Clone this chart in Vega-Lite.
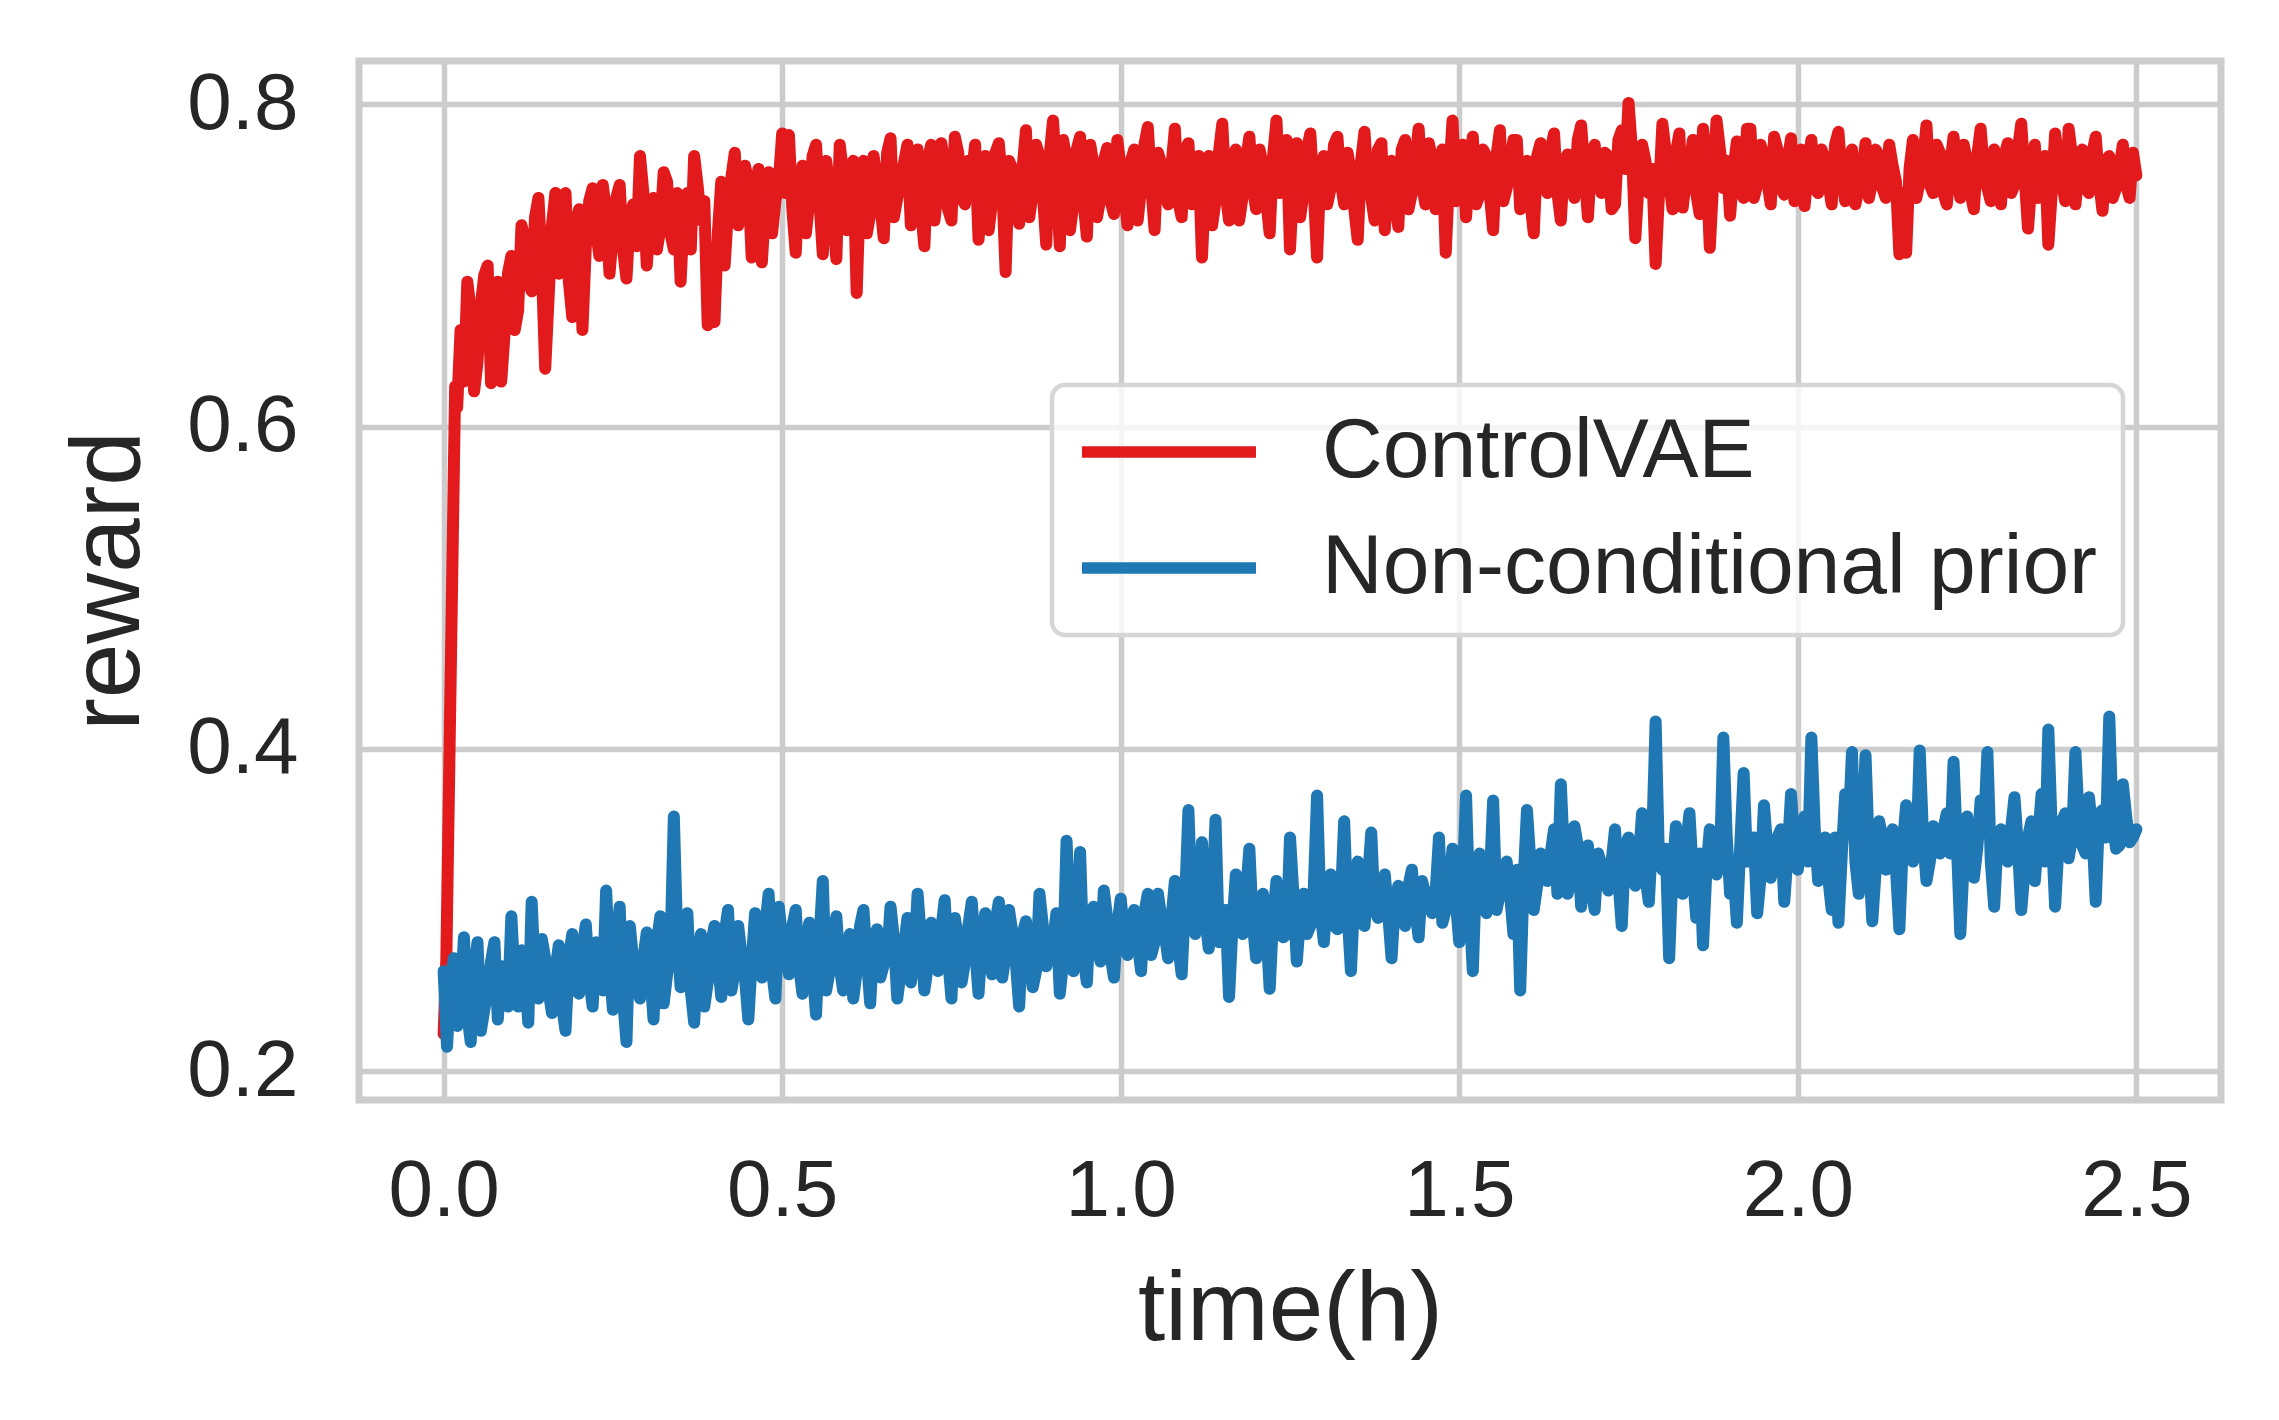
{
  "$schema": "https://vega.github.io/schema/vega-lite/v6.json",
  "autosize": {"type": "none"},
  "width": 1862,
  "height": 1039,
  "padding": {"left": 359, "top": 61, "right": 58, "bottom": 320},
  "background": "white",
  "datasets": {
    "red": [
      {"t":0,"r":0.223},{"t":0.004,"r":0.27},{"t":0.017,"r":0.625},{"t":0.02,"r":0.612},{"t":0.025,"r":0.66},{"t":0.03,"r":0.628},{"t":0.04,"r":0.672},{"t":0.05,"r":0.64},{"t":0.06,"r":0.694},{"t":0.07,"r":0.627},{"t":0.08,"r":0.69},{"t":0.09,"r":0.658},
      {"t":0.1,"r":0.706},{"t":0.11,"r":0.672},{"t":0.12,"r":0.716},{"t":0.13,"r":0.684},{"t":0.14,"r":0.742},{"t":0.15,"r":0.636},{"t":0.16,"r":0.725},{"t":0.17,"r":0.695},{"t":0.18,"r":0.745},{"t":0.19,"r":0.668},
      {"t":0.2,"r":0.735},{"t":0.21,"r":0.712},{"t":0.22,"r":0.748},{"t":0.23,"r":0.706},{"t":0.24,"r":0.733},{"t":0.25,"r":0.72},{"t":0.26,"r":0.75},{"t":0.27,"r":0.692},{"t":0.28,"r":0.738},{"t":0.29,"r":0.768},
      {"t":0.3,"r":0.7},{"t":0.31,"r":0.742},{"t":0.32,"r":0.723},{"t":0.33,"r":0.752},{"t":0.34,"r":0.71},{"t":0.35,"r":0.69},{"t":0.36,"r":0.745},{"t":0.37,"r":0.768},{"t":0.38,"r":0.728},{"t":0.39,"r":0.663},
      {"t":0.4,"r":0.665},{"t":0.41,"r":0.752},{"t":0.42,"r":0.734},{"t":0.43,"r":0.77},{"t":0.44,"r":0.736},{"t":0.45,"r":0.752},{"t":0.46,"r":0.745},{"t":0.47,"r":0.702},{"t":0.48,"r":0.758},{"t":0.49,"r":0.74},
      {"t":0.5,"r":0.782},{"t":0.51,"r":0.781},{"t":0.52,"r":0.708},{"t":0.53,"r":0.762},{"t":0.54,"r":0.74},{"t":0.55,"r":0.775},{"t":0.56,"r":0.707},{"t":0.57,"r":0.748},{"t":0.58,"r":0.704},{"t":0.59,"r":0.758},
      {"t":0.6,"r":0.745},{"t":0.61,"r":0.683},{"t":0.62,"r":0.765},{"t":0.63,"r":0.732},{"t":0.64,"r":0.752},{"t":0.65,"r":0.717},{"t":0.66,"r":0.779},{"t":0.67,"r":0.742},{"t":0.68,"r":0.764},{"t":0.69,"r":0.725},
      {"t":0.7,"r":0.772},{"t":0.71,"r":0.712},{"t":0.72,"r":0.775},{"t":0.73,"r":0.748},{"t":0.74,"r":0.762},{"t":0.75,"r":0.728},{"t":0.76,"r":0.77},{"t":0.77,"r":0.738},{"t":0.78,"r":0.757},{"t":0.79,"r":0.716},
      {"t":0.8,"r":0.768},{"t":0.81,"r":0.74},{"t":0.82,"r":0.776},{"t":0.83,"r":0.696},{"t":0.84,"r":0.76},{"t":0.85,"r":0.726},{"t":0.86,"r":0.784},{"t":0.87,"r":0.745},{"t":0.88,"r":0.768},{"t":0.89,"r":0.713},
      {"t":0.9,"r":0.79},{"t":0.91,"r":0.712},{"t":0.92,"r":0.765},{"t":0.93,"r":0.738},{"t":0.94,"r":0.78},{"t":0.95,"r":0.718},{"t":0.96,"r":0.762},{"t":0.97,"r":0.742},{"t":0.98,"r":0.773},{"t":0.99,"r":0.732},
      {"t":1,"r":0.76},{"t":1.01,"r":0.725},{"t":1.02,"r":0.772},{"t":1.03,"r":0.748},{"t":1.04,"r":0.786},{"t":1.05,"r":0.722},{"t":1.06,"r":0.763},{"t":1.07,"r":0.738},{"t":1.08,"r":0.785},{"t":1.09,"r":0.73},
      {"t":1.1,"r":0.776},{"t":1.11,"r":0.752},{"t":1.12,"r":0.705},{"t":1.13,"r":0.768},{"t":1.14,"r":0.74},{"t":1.15,"r":0.788},{"t":1.16,"r":0.728},{"t":1.17,"r":0.772},{"t":1.18,"r":0.743},{"t":1.19,"r":0.78},
      {"t":1.2,"r":0.735},{"t":1.21,"r":0.762},{"t":1.22,"r":0.72},{"t":1.23,"r":0.79},{"t":1.24,"r":0.75},{"t":1.25,"r":0.71},{"t":1.26,"r":0.776},{"t":1.27,"r":0.745},{"t":1.28,"r":0.782},{"t":1.29,"r":0.705},
      {"t":1.3,"r":0.768},{"t":1.31,"r":0.748},{"t":1.32,"r":0.78},{"t":1.33,"r":0.738},{"t":1.34,"r":0.757},{"t":1.35,"r":0.716},{"t":1.36,"r":0.783},{"t":1.37,"r":0.742},{"t":1.38,"r":0.772},{"t":1.39,"r":0.722},
      {"t":1.4,"r":0.765},{"t":1.41,"r":0.724},{"t":1.42,"r":0.778},{"t":1.43,"r":0.745},{"t":1.44,"r":0.785},{"t":1.45,"r":0.738},{"t":1.46,"r":0.766},{"t":1.47,"r":0.748},{"t":1.48,"r":0.708},{"t":1.49,"r":0.79},
      {"t":1.5,"r":0.755},{"t":1.51,"r":0.73},{"t":1.52,"r":0.78},{"t":1.53,"r":0.744},{"t":1.54,"r":0.768},{"t":1.55,"r":0.722},{"t":1.56,"r":0.784},{"t":1.57,"r":0.748},{"t":1.58,"r":0.778},{"t":1.59,"r":0.735},
      {"t":1.6,"r":0.765},{"t":1.61,"r":0.72},{"t":1.62,"r":0.776},{"t":1.63,"r":0.745},{"t":1.64,"r":0.782},{"t":1.65,"r":0.728},{"t":1.66,"r":0.769},{"t":1.67,"r":0.742},{"t":1.68,"r":0.787},{"t":1.69,"r":0.73},
      {"t":1.7,"r":0.775},{"t":1.71,"r":0.745},{"t":1.72,"r":0.768},{"t":1.73,"r":0.738},{"t":1.74,"r":0.784},{"t":1.75,"r":0.801},{"t":1.76,"r":0.717},{"t":1.77,"r":0.775},{"t":1.78,"r":0.745},{"t":1.79,"r":0.701},
      {"t":1.8,"r":0.788},{"t":1.81,"r":0.752},{"t":1.82,"r":0.77},{"t":1.83,"r":0.736},{"t":1.84,"r":0.762},{"t":1.85,"r":0.745},{"t":1.86,"r":0.785},{"t":1.87,"r":0.711},{"t":1.88,"r":0.79},{"t":1.89,"r":0.748},
      {"t":1.9,"r":0.731},{"t":1.91,"r":0.777},{"t":1.92,"r":0.742},{"t":1.93,"r":0.785},{"t":1.94,"r":0.75},{"t":1.95,"r":0.768},{"t":1.96,"r":0.738},{"t":1.97,"r":0.772},{"t":1.98,"r":0.744},{"t":1.99,"r":0.779},
      {"t":2,"r":0.755},{"t":2.01,"r":0.737},{"t":2.02,"r":0.778},{"t":2.03,"r":0.745},{"t":2.04,"r":0.766},{"t":2.05,"r":0.738},{"t":2.06,"r":0.783},{"t":2.07,"r":0.74},{"t":2.08,"r":0.772},{"t":2.09,"r":0.748},
      {"t":2.1,"r":0.776},{"t":2.11,"r":0.752},{"t":2.12,"r":0.768},{"t":2.13,"r":0.742},{"t":2.14,"r":0.762},{"t":2.15,"r":0.707},{"t":2.16,"r":0.708},{"t":2.17,"r":0.778},{"t":2.18,"r":0.752},{"t":2.19,"r":0.787},
      {"t":2.2,"r":0.745},{"t":2.21,"r":0.77},{"t":2.22,"r":0.738},{"t":2.23,"r":0.78},{"t":2.24,"r":0.742},{"t":2.25,"r":0.765},{"t":2.26,"r":0.735},{"t":2.27,"r":0.785},{"t":2.28,"r":0.748},{"t":2.29,"r":0.772},
      {"t":2.3,"r":0.738},{"t":2.31,"r":0.776},{"t":2.32,"r":0.75},{"t":2.33,"r":0.788},{"t":2.34,"r":0.723},{"t":2.35,"r":0.775},{"t":2.36,"r":0.745},{"t":2.37,"r":0.713},{"t":2.38,"r":0.782},{"t":2.39,"r":0.752},
      {"t":2.4,"r":0.785},{"t":2.41,"r":0.738},{"t":2.42,"r":0.772},{"t":2.43,"r":0.745},{"t":2.44,"r":0.78},{"t":2.45,"r":0.734},{"t":2.46,"r":0.768},{"t":2.47,"r":0.748},{"t":2.48,"r":0.775},{"t":2.49,"r":0.742},
      {"t":2.5,"r":0.756},
      {"t":0.035,"r":0.69},{"t":0.045,"r":0.622},{"t":0.055,"r":0.676},{"t":0.065,"r":0.7},{"t":0.075,"r":0.66},{"t":0.085,"r":0.628},{"t":0.095,"r":0.695},
      {"t":0.105,"r":0.66},{"t":0.115,"r":0.725},{"t":0.125,"r":0.69},{"t":0.135,"r":0.73},{"t":0.145,"r":0.7},{"t":0.155,"r":0.68},{"t":0.165,"r":0.745},{"t":0.175,"r":0.71},{"t":0.185,"r":0.69},{"t":0.195,"r":0.725},
      {"t":0.205,"r":0.66},{"t":0.215,"r":0.74},{"t":0.225,"r":0.722},{"t":0.235,"r":0.75},{"t":0.245,"r":0.695},{"t":0.255,"r":0.742},{"t":0.265,"r":0.71},{"t":0.275,"r":0.73},{"t":0.285,"r":0.712},{"t":0.295,"r":0.745},
      {"t":0.305,"r":0.73},{"t":0.315,"r":0.71},{"t":0.325,"r":0.758},{"t":0.335,"r":0.72},{"t":0.345,"r":0.745},{"t":0.355,"r":0.735},{"t":0.365,"r":0.71},{"t":0.375,"r":0.75},{"t":0.385,"r":0.74},{"t":0.395,"r":0.705},
      {"t":0.405,"r":0.72},{"t":0.415,"r":0.7},{"t":0.425,"r":0.755},{"t":0.435,"r":0.725},{"t":0.445,"r":0.762},{"t":0.455,"r":0.705},{"t":0.465,"r":0.76},{"t":0.475,"r":0.738},{"t":0.485,"r":0.72},{"t":0.495,"r":0.752},
      {"t":0.505,"r":0.745},{"t":0.515,"r":0.735},{"t":0.525,"r":0.75},{"t":0.535,"r":0.72},{"t":0.545,"r":0.768},{"t":0.555,"r":0.74},{"t":0.565,"r":0.765},{"t":0.575,"r":0.73},{"t":0.585,"r":0.775},{"t":0.595,"r":0.722},
      {"t":0.605,"r":0.765},{"t":0.615,"r":0.748},{"t":0.625,"r":0.72},{"t":0.635,"r":0.768},{"t":0.645,"r":0.738},{"t":0.655,"r":0.77},{"t":0.665,"r":0.73},{"t":0.675,"r":0.752},{"t":0.685,"r":0.775},{"t":0.695,"r":0.745},
      {"t":0.705,"r":0.735},{"t":0.715,"r":0.765},{"t":0.725,"r":0.728},{"t":0.735,"r":0.776},{"t":0.745,"r":0.735},{"t":0.755,"r":0.78},{"t":0.765,"r":0.742},{"t":0.775,"r":0.765},{"t":0.785,"r":0.775},{"t":0.795,"r":0.745},
      {"t":0.805,"r":0.722},{"t":0.815,"r":0.77},{"t":0.825,"r":0.75},{"t":0.835,"r":0.765},{"t":0.845,"r":0.742},{"t":0.855,"r":0.76},{"t":0.865,"r":0.73},{"t":0.875,"r":0.775},{"t":0.885,"r":0.745},{"t":0.895,"r":0.768},
      {"t":0.905,"r":0.755},{"t":0.915,"r":0.778},{"t":0.925,"r":0.722},{"t":0.935,"r":0.772},{"t":0.945,"r":0.74},{"t":0.955,"r":0.775},{"t":0.965,"r":0.73},{"t":0.975,"r":0.765},{"t":0.985,"r":0.74},{"t":0.995,"r":0.778},
      {"t":1.005,"r":0.745},{"t":1.015,"r":0.765},{"t":1.025,"r":0.728},{"t":1.035,"r":0.775},{"t":1.045,"r":0.75},{"t":1.055,"r":0.77},{"t":1.065,"r":0.745},{"t":1.075,"r":0.762},{"t":1.085,"r":0.74},{"t":1.095,"r":0.772},
      {"t":1.105,"r":0.738},{"t":1.115,"r":0.768},{"t":1.125,"r":0.752},{"t":1.135,"r":0.725},{"t":1.145,"r":0.77},{"t":1.155,"r":0.745},{"t":1.165,"r":0.768},{"t":1.175,"r":0.728},{"t":1.185,"r":0.765},{"t":1.195,"r":0.748},
      {"t":1.205,"r":0.772},{"t":1.215,"r":0.74},{"t":1.225,"r":0.768},{"t":1.235,"r":0.745},{"t":1.245,"r":0.778},{"t":1.255,"r":0.752},{"t":1.265,"r":0.73},{"t":1.275,"r":0.772},{"t":1.285,"r":0.748},{"t":1.295,"r":0.76},
      {"t":1.305,"r":0.738},{"t":1.315,"r":0.775},{"t":1.325,"r":0.752},{"t":1.335,"r":0.77},{"t":1.345,"r":0.735},{"t":1.355,"r":0.765},{"t":1.365,"r":0.752},{"t":1.375,"r":0.728},{"t":1.385,"r":0.776},{"t":1.395,"r":0.755},
      {"t":1.405,"r":0.74},{"t":1.415,"r":0.772},{"t":1.425,"r":0.735},{"t":1.435,"r":0.765},{"t":1.445,"r":0.75},{"t":1.455,"r":0.776},{"t":1.465,"r":0.735},{"t":1.475,"r":0.772},{"t":1.485,"r":0.755},{"t":1.495,"r":0.74},
      {"t":1.505,"r":0.775},{"t":1.515,"r":0.76},{"t":1.525,"r":0.738},{"t":1.535,"r":0.772},{"t":1.545,"r":0.745},{"t":1.555,"r":0.768},{"t":1.565,"r":0.74},{"t":1.575,"r":0.762},{"t":1.585,"r":0.778},{"t":1.595,"r":0.748},
      {"t":1.605,"r":0.74},{"t":1.615,"r":0.768},{"t":1.625,"r":0.755},{"t":1.635,"r":0.772},{"t":1.645,"r":0.745},{"t":1.655,"r":0.765},{"t":1.665,"r":0.752},{"t":1.675,"r":0.778},{"t":1.685,"r":0.758},{"t":1.695,"r":0.765},
      {"t":1.705,"r":0.752},{"t":1.715,"r":0.77},{"t":1.725,"r":0.735},{"t":1.735,"r":0.778},{"t":1.745,"r":0.76},{"t":1.755,"r":0.772},{"t":1.765,"r":0.752},{"t":1.775,"r":0.765},{"t":1.785,"r":0.76},{"t":1.795,"r":0.745},
      {"t":1.805,"r":0.77},{"t":1.815,"r":0.735},{"t":1.825,"r":0.782},{"t":1.835,"r":0.755},{"t":1.845,"r":0.778},{"t":1.855,"r":0.732},{"t":1.865,"r":0.765},{"t":1.875,"r":0.752},{"t":1.885,"r":0.772},{"t":1.895,"r":0.765},
      {"t":1.905,"r":0.76},{"t":1.915,"r":0.748},{"t":1.925,"r":0.785},{"t":1.935,"r":0.742},{"t":1.945,"r":0.775},{"t":1.955,"r":0.752},{"t":1.965,"r":0.78},{"t":1.975,"r":0.748},{"t":1.985,"r":0.765},{"t":1.995,"r":0.74},
      {"t":2.005,"r":0.772},{"t":2.015,"r":0.76},{"t":2.025,"r":0.748},{"t":2.035,"r":0.772},{"t":2.045,"r":0.752},{"t":2.055,"r":0.775},{"t":2.065,"r":0.755},{"t":2.075,"r":0.765},{"t":2.085,"r":0.738},{"t":2.095,"r":0.758},
      {"t":2.105,"r":0.742},{"t":2.115,"r":0.772},{"t":2.125,"r":0.748},{"t":2.135,"r":0.775},{"t":2.145,"r":0.752},{"t":2.155,"r":0.745},{"t":2.165,"r":0.76},{"t":2.175,"r":0.742},{"t":2.185,"r":0.765},{"t":2.195,"r":0.75},
      {"t":2.205,"r":0.775},{"t":2.215,"r":0.745},{"t":2.225,"r":0.762},{"t":2.235,"r":0.755},{"t":2.245,"r":0.775},{"t":2.255,"r":0.745},{"t":2.265,"r":0.768},{"t":2.275,"r":0.758},{"t":2.285,"r":0.74},{"t":2.295,"r":0.765},
      {"t":2.305,"r":0.768},{"t":2.315,"r":0.745},{"t":2.325,"r":0.772},{"t":2.335,"r":0.755},{"t":2.345,"r":0.752},{"t":2.355,"r":0.742},{"t":2.365,"r":0.768},{"t":2.375,"r":0.745},{"t":2.385,"r":0.765},{"t":2.395,"r":0.74},
      {"t":2.405,"r":0.768},{"t":2.415,"r":0.76},{"t":2.425,"r":0.748},{"t":2.435,"r":0.77},{"t":2.445,"r":0.752},{"t":2.455,"r":0.765},{"t":2.465,"r":0.742},{"t":2.475,"r":0.76},{"t":2.485,"r":0.75},{"t":2.495,"r":0.77}
    ],
    "blue": [
      {"t":0,"r":0.262},{"t":0.005,"r":0.215},{"t":0.01,"r":0.255},{"t":0.02,"r":0.228},{"t":0.03,"r":0.283},{"t":0.04,"r":0.218},{"t":0.05,"r":0.28},{"t":0.06,"r":0.238},{"t":0.07,"r":0.268},{"t":0.08,"r":0.232},{"t":0.09,"r":0.258},
      {"t":0.1,"r":0.296},{"t":0.11,"r":0.24},{"t":0.12,"r":0.262},{"t":0.13,"r":0.305},{"t":0.14,"r":0.245},{"t":0.15,"r":0.27},{"t":0.16,"r":0.236},{"t":0.17,"r":0.278},{"t":0.18,"r":0.225},{"t":0.19,"r":0.285},
      {"t":0.2,"r":0.248},{"t":0.21,"r":0.291},{"t":0.22,"r":0.24},{"t":0.23,"r":0.27},{"t":0.24,"r":0.312},{"t":0.25,"r":0.238},{"t":0.26,"r":0.302},{"t":0.27,"r":0.218},{"t":0.28,"r":0.268},{"t":0.29,"r":0.245},
      {"t":0.3,"r":0.286},{"t":0.31,"r":0.232},{"t":0.32,"r":0.296},{"t":0.33,"r":0.26},{"t":0.34,"r":0.358},{"t":0.35,"r":0.252},{"t":0.36,"r":0.298},{"t":0.37,"r":0.23},{"t":0.38,"r":0.285},{"t":0.39,"r":0.255},
      {"t":0.4,"r":0.29},{"t":0.41,"r":0.246},{"t":0.42,"r":0.3},{"t":0.43,"r":0.262},{"t":0.44,"r":0.272},{"t":0.45,"r":0.232},{"t":0.46,"r":0.298},{"t":0.47,"r":0.258},{"t":0.48,"r":0.31},{"t":0.49,"r":0.245},
      {"t":0.5,"r":0.282},{"t":0.51,"r":0.26},{"t":0.52,"r":0.3},{"t":0.53,"r":0.248},{"t":0.54,"r":0.292},{"t":0.55,"r":0.235},{"t":0.56,"r":0.318},{"t":0.57,"r":0.262},{"t":0.58,"r":0.296},{"t":0.59,"r":0.25},
      {"t":0.6,"r":0.285},{"t":0.61,"r":0.262},{"t":0.62,"r":0.3},{"t":0.63,"r":0.242},{"t":0.64,"r":0.288},{"t":0.65,"r":0.266},{"t":0.66,"r":0.302},{"t":0.67,"r":0.245},{"t":0.68,"r":0.277},{"t":0.69,"r":0.255},
      {"t":0.7,"r":0.31},{"t":0.71,"r":0.25},{"t":0.72,"r":0.292},{"t":0.73,"r":0.262},{"t":0.74,"r":0.306},{"t":0.75,"r":0.245},{"t":0.76,"r":0.282},{"t":0.77,"r":0.268},{"t":0.78,"r":0.305},{"t":0.79,"r":0.248},
      {"t":0.8,"r":0.298},{"t":0.81,"r":0.26},{"t":0.82,"r":0.305},{"t":0.83,"r":0.272},{"t":0.84,"r":0.286},{"t":0.85,"r":0.24},{"t":0.86,"r":0.293},{"t":0.87,"r":0.252},{"t":0.88,"r":0.31},{"t":0.89,"r":0.265},
      {"t":0.9,"r":0.28},{"t":0.91,"r":0.248},{"t":0.92,"r":0.343},{"t":0.93,"r":0.262},{"t":0.94,"r":0.336},{"t":0.95,"r":0.255},{"t":0.96,"r":0.302},{"t":0.97,"r":0.268},{"t":0.98,"r":0.295},{"t":0.99,"r":0.258},
      {"t":1,"r":0.307},{"t":1.01,"r":0.272},{"t":1.02,"r":0.3},{"t":1.03,"r":0.262},{"t":1.04,"r":0.31},{"t":1.05,"r":0.28},{"t":1.06,"r":0.295},{"t":1.07,"r":0.27},{"t":1.08,"r":0.318},{"t":1.09,"r":0.26},
      {"t":1.1,"r":0.362},{"t":1.11,"r":0.285},{"t":1.12,"r":0.342},{"t":1.13,"r":0.276},{"t":1.14,"r":0.356},{"t":1.15,"r":0.29},{"t":1.16,"r":0.246},{"t":1.17,"r":0.322},{"t":1.18,"r":0.285},{"t":1.19,"r":0.338},
      {"t":1.2,"r":0.27},{"t":1.21,"r":0.31},{"t":1.22,"r":0.251},{"t":1.23,"r":0.318},{"t":1.24,"r":0.283},{"t":1.25,"r":0.345},{"t":1.26,"r":0.268},{"t":1.27,"r":0.31},{"t":1.28,"r":0.29},{"t":1.29,"r":0.371},
      {"t":1.3,"r":0.28},{"t":1.31,"r":0.322},{"t":1.32,"r":0.288},{"t":1.33,"r":0.355},{"t":1.34,"r":0.262},{"t":1.35,"r":0.33},{"t":1.36,"r":0.29},{"t":1.37,"r":0.348},{"t":1.38,"r":0.295},{"t":1.39,"r":0.322},
      {"t":1.4,"r":0.27},{"t":1.41,"r":0.315},{"t":1.42,"r":0.29},{"t":1.43,"r":0.325},{"t":1.44,"r":0.283},{"t":1.45,"r":0.31},{"t":1.46,"r":0.298},{"t":1.47,"r":0.345},{"t":1.48,"r":0.3},{"t":1.49,"r":0.338},
      {"t":1.5,"r":0.28},{"t":1.51,"r":0.371},{"t":1.52,"r":0.262},{"t":1.53,"r":0.335},{"t":1.54,"r":0.298},{"t":1.55,"r":0.368},{"t":1.56,"r":0.31},{"t":1.57,"r":0.33},{"t":1.58,"r":0.285},{"t":1.59,"r":0.25},
      {"t":1.6,"r":0.362},{"t":1.61,"r":0.3},{"t":1.62,"r":0.335},{"t":1.63,"r":0.318},{"t":1.64,"r":0.35},{"t":1.65,"r":0.378},{"t":1.66,"r":0.31},{"t":1.67,"r":0.352},{"t":1.68,"r":0.302},{"t":1.69,"r":0.34},
      {"t":1.7,"r":0.3},{"t":1.71,"r":0.328},{"t":1.72,"r":0.312},{"t":1.73,"r":0.35},{"t":1.74,"r":0.29},{"t":1.75,"r":0.345},{"t":1.76,"r":0.315},{"t":1.77,"r":0.36},{"t":1.78,"r":0.305},{"t":1.79,"r":0.417},
      {"t":1.8,"r":0.325},{"t":1.81,"r":0.27},{"t":1.82,"r":0.352},{"t":1.83,"r":0.31},{"t":1.84,"r":0.36},{"t":1.85,"r":0.295},{"t":1.86,"r":0.278},{"t":1.87,"r":0.35},{"t":1.88,"r":0.322},{"t":1.89,"r":0.407},
      {"t":1.9,"r":0.31},{"t":1.91,"r":0.292},{"t":1.92,"r":0.385},{"t":1.93,"r":0.33},{"t":1.94,"r":0.298},{"t":1.95,"r":0.365},{"t":1.96,"r":0.32},{"t":1.97,"r":0.345},{"t":1.98,"r":0.305},{"t":1.99,"r":0.372},
      {"t":2,"r":0.325},{"t":2.01,"r":0.358},{"t":2.02,"r":0.407},{"t":2.03,"r":0.318},{"t":2.04,"r":0.345},{"t":2.05,"r":0.3},{"t":2.06,"r":0.292},{"t":2.07,"r":0.372},{"t":2.08,"r":0.398},{"t":2.09,"r":0.31},
      {"t":2.1,"r":0.396},{"t":2.11,"r":0.293},{"t":2.12,"r":0.355},{"t":2.13,"r":0.325},{"t":2.14,"r":0.35},{"t":2.15,"r":0.288},{"t":2.16,"r":0.365},{"t":2.17,"r":0.33},{"t":2.18,"r":0.399},{"t":2.19,"r":0.318},
      {"t":2.2,"r":0.352},{"t":2.21,"r":0.335},{"t":2.22,"r":0.36},{"t":2.23,"r":0.392},{"t":2.24,"r":0.285},{"t":2.25,"r":0.358},{"t":2.26,"r":0.32},{"t":2.27,"r":0.368},{"t":2.28,"r":0.398},{"t":2.29,"r":0.302},
      {"t":2.3,"r":0.35},{"t":2.31,"r":0.33},{"t":2.32,"r":0.37},{"t":2.33,"r":0.3},{"t":2.34,"r":0.345},{"t":2.35,"r":0.318},{"t":2.36,"r":0.372},{"t":2.37,"r":0.412},{"t":2.38,"r":0.302},{"t":2.39,"r":0.355},
      {"t":2.4,"r":0.332},{"t":2.41,"r":0.398},{"t":2.42,"r":0.34},{"t":2.43,"r":0.37},{"t":2.44,"r":0.305},{"t":2.45,"r":0.362},{"t":2.46,"r":0.42},{"t":2.47,"r":0.338},{"t":2.48,"r":0.378},{"t":2.49,"r":0.342},
      {"t":2.5,"r":0.35},
      {"t":0.015,"r":0.27},{"t":0.025,"r":0.245},{"t":0.035,"r":0.235},{"t":0.045,"r":0.262},{"t":0.055,"r":0.225},{"t":0.065,"r":0.25},{"t":0.075,"r":0.28},{"t":0.085,"r":0.265},{"t":0.095,"r":0.24},
      {"t":0.105,"r":0.255},{"t":0.115,"r":0.275},{"t":0.125,"r":0.23},{"t":0.135,"r":0.258},{"t":0.145,"r":0.282},{"t":0.155,"r":0.25},{"t":0.165,"r":0.262},{"t":0.175,"r":0.24},{"t":0.185,"r":0.27},{"t":0.195,"r":0.25},
      {"t":0.205,"r":0.275},{"t":0.215,"r":0.258},{"t":0.225,"r":0.28},{"t":0.235,"r":0.25},{"t":0.245,"r":0.265},{"t":0.255,"r":0.28},{"t":0.265,"r":0.245},{"t":0.275,"r":0.29},{"t":0.285,"r":0.255},{"t":0.295,"r":0.27},
      {"t":0.305,"r":0.262},{"t":0.315,"r":0.28},{"t":0.325,"r":0.242},{"t":0.335,"r":0.275},{"t":0.345,"r":0.282},{"t":0.355,"r":0.27},{"t":0.365,"r":0.25},{"t":0.375,"r":0.272},{"t":0.385,"r":0.24},{"t":0.395,"r":0.278},
      {"t":0.405,"r":0.268},{"t":0.415,"r":0.285},{"t":0.425,"r":0.25},{"t":0.435,"r":0.29},{"t":0.445,"r":0.258},{"t":0.455,"r":0.268},{"t":0.465,"r":0.275},{"t":0.475,"r":0.29},{"t":0.485,"r":0.262},{"t":0.495,"r":0.302},
      {"t":0.505,"r":0.272},{"t":0.515,"r":0.29},{"t":0.525,"r":0.265},{"t":0.535,"r":0.278},{"t":0.545,"r":0.262},{"t":0.555,"r":0.282},{"t":0.565,"r":0.25},{"t":0.575,"r":0.28},{"t":0.585,"r":0.265},{"t":0.595,"r":0.275},
      {"t":0.605,"r":0.245},{"t":0.615,"r":0.29},{"t":0.625,"r":0.27},{"t":0.635,"r":0.28},{"t":0.645,"r":0.258},{"t":0.655,"r":0.27},{"t":0.665,"r":0.282},{"t":0.675,"r":0.262},{"t":0.685,"r":0.295},{"t":0.695,"r":0.27},
      {"t":0.705,"r":0.282},{"t":0.715,"r":0.265},{"t":0.725,"r":0.275},{"t":0.735,"r":0.288},{"t":0.745,"r":0.27},{"t":0.755,"r":0.295},{"t":0.765,"r":0.255},{"t":0.775,"r":0.29},{"t":0.785,"r":0.275},{"t":0.795,"r":0.282},
      {"t":0.805,"r":0.27},{"t":0.815,"r":0.292},{"t":0.825,"r":0.258},{"t":0.835,"r":0.3},{"t":0.845,"r":0.268},{"t":0.855,"r":0.285},{"t":0.865,"r":0.275},{"t":0.875,"r":0.262},{"t":0.885,"r":0.29},{"t":0.895,"r":0.272},
      {"t":0.905,"r":0.298},{"t":0.915,"r":0.268},{"t":0.925,"r":0.29},{"t":0.935,"r":0.285},{"t":0.945,"r":0.27},{"t":0.955,"r":0.298},{"t":0.965,"r":0.28},{"t":0.975,"r":0.312},{"t":0.985,"r":0.272},{"t":0.995,"r":0.29},
      {"t":1.005,"r":0.285},{"t":1.015,"r":0.295},{"t":1.025,"r":0.28},{"t":1.035,"r":0.298},{"t":1.045,"r":0.272},{"t":1.055,"r":0.31},{"t":1.065,"r":0.285},{"t":1.075,"r":0.295},{"t":1.085,"r":0.278},{"t":1.095,"r":0.305},
      {"t":1.105,"r":0.298},{"t":1.115,"r":0.31},{"t":1.125,"r":0.295},{"t":1.135,"r":0.305},{"t":1.145,"r":0.28},{"t":1.155,"r":0.3},{"t":1.165,"r":0.29},{"t":1.175,"r":0.3},{"t":1.185,"r":0.31},{"t":1.195,"r":0.292},
      {"t":1.205,"r":0.302},{"t":1.215,"r":0.288},{"t":1.225,"r":0.295},{"t":1.235,"r":0.3},{"t":1.245,"r":0.285},{"t":1.255,"r":0.31},{"t":1.265,"r":0.295},{"t":1.275,"r":0.285},{"t":1.285,"r":0.312},{"t":1.295,"r":0.3},
      {"t":1.305,"r":0.31},{"t":1.315,"r":0.29},{"t":1.325,"r":0.305},{"t":1.335,"r":0.298},{"t":1.345,"r":0.31},{"t":1.355,"r":0.292},{"t":1.365,"r":0.318},{"t":1.375,"r":0.3},{"t":1.385,"r":0.31},{"t":1.395,"r":0.298},
      {"t":1.405,"r":0.305},{"t":1.415,"r":0.295},{"t":1.425,"r":0.315},{"t":1.435,"r":0.3},{"t":1.445,"r":0.318},{"t":1.455,"r":0.302},{"t":1.465,"r":0.31},{"t":1.475,"r":0.292},{"t":1.485,"r":0.315},{"t":1.495,"r":0.305},
      {"t":1.505,"r":0.315},{"t":1.515,"r":0.302},{"t":1.525,"r":0.325},{"t":1.535,"r":0.31},{"t":1.545,"r":0.318},{"t":1.555,"r":0.3},{"t":1.565,"r":0.322},{"t":1.575,"r":0.31},{"t":1.585,"r":0.325},{"t":1.595,"r":0.318},
      {"t":1.605,"r":0.33},{"t":1.615,"r":0.315},{"t":1.625,"r":0.325},{"t":1.635,"r":0.335},{"t":1.645,"r":0.31},{"t":1.655,"r":0.33},{"t":1.665,"r":0.318},{"t":1.675,"r":0.34},{"t":1.685,"r":0.322},{"t":1.695,"r":0.315},
      {"t":1.705,"r":0.335},{"t":1.715,"r":0.32},{"t":1.725,"r":0.33},{"t":1.735,"r":0.318},{"t":1.745,"r":0.34},{"t":1.755,"r":0.325},{"t":1.765,"r":0.33},{"t":1.775,"r":0.32},{"t":1.785,"r":0.345},{"t":1.795,"r":0.33},
      {"t":1.805,"r":0.338},{"t":1.815,"r":0.325},{"t":1.825,"r":0.33},{"t":1.835,"r":0.34},{"t":1.845,"r":0.322},{"t":1.855,"r":0.335},{"t":1.865,"r":0.325},{"t":1.875,"r":0.34},{"t":1.885,"r":0.33},{"t":1.895,"r":0.345},
      {"t":1.905,"r":0.325},{"t":1.915,"r":0.34},{"t":1.925,"r":0.33},{"t":1.935,"r":0.345},{"t":1.945,"r":0.32},{"t":1.955,"r":0.338},{"t":1.965,"r":0.33},{"t":1.975,"r":0.35},{"t":1.985,"r":0.335},{"t":1.995,"r":0.34},
      {"t":2.005,"r":0.345},{"t":2.015,"r":0.33},{"t":2.025,"r":0.35},{"t":2.035,"r":0.335},{"t":2.045,"r":0.32},{"t":2.055,"r":0.345},{"t":2.065,"r":0.335},{"t":2.075,"r":0.35},{"t":2.085,"r":0.33},{"t":2.095,"r":0.345},
      {"t":2.105,"r":0.335},{"t":2.115,"r":0.325},{"t":2.125,"r":0.345},{"t":2.135,"r":0.335},{"t":2.145,"r":0.325},{"t":2.155,"r":0.34},{"t":2.165,"r":0.35},{"t":2.175,"r":0.335},{"t":2.185,"r":0.345},{"t":2.195,"r":0.33},
      {"t":2.205,"r":0.345},{"t":2.215,"r":0.35},{"t":2.225,"r":0.335},{"t":2.235,"r":0.34},{"t":2.245,"r":0.33},{"t":2.255,"r":0.345},{"t":2.265,"r":0.338},{"t":2.275,"r":0.35},{"t":2.285,"r":0.33},{"t":2.295,"r":0.342},
      {"t":2.305,"r":0.335},{"t":2.315,"r":0.35},{"t":2.325,"r":0.34},{"t":2.335,"r":0.325},{"t":2.345,"r":0.355},{"t":2.355,"r":0.345},{"t":2.365,"r":0.33},{"t":2.375,"r":0.35},{"t":2.385,"r":0.34},{"t":2.395,"r":0.36},
      {"t":2.405,"r":0.345},{"t":2.415,"r":0.355},{"t":2.425,"r":0.335},{"t":2.435,"r":0.35},{"t":2.445,"r":0.36},{"t":2.455,"r":0.345},{"t":2.465,"r":0.355},{"t":2.475,"r":0.34},{"t":2.485,"r":0.358},{"t":2.495,"r":0.345}
    ]
  },
  "config": {
    "font": "Liberation Sans",
    "view": {"stroke": "#cccccc", "strokeWidth": 7},
    "axis": {
      "grid": true,
      "gridColor": "#cccccc",
      "gridWidth": 5.5,
      "ticks": false,
      "tickSize": 0,
      "domain": false,
      "labelFont": "Liberation Sans",
      "labelFontSize": 80,
      "labelColor": "#262626",
      "titleFont": "Liberation Sans",
      "titleFontSize": 98,
      "titleFontWeight": "normal",
      "titleColor": "#262626"
    },
    "legend": {
      "orient": "none",
      "legendX": 693,
      "legendY": 324,
      "title": null,
      "labelFont": "Liberation Sans",
      "labelFontSize": 84,
      "labelColor": "#262626",
      "labelLimit": 0,
      "labelOffset": 161,
      "symbolType": "M-1.276,0H4.724",
      "symbolSize": 3364,
      "symbolStrokeWidth": 11.5,
      "rowPadding": 32,
      "padding": 25,
      "fillColor": "rgba(255,255,255,0.8)",
      "strokeColor": "#d6d6d6",
      "strokeWidth": 4.5,
      "cornerRadius": 13
    }
  },
  "encoding": {
    "x": {
      "field": "t",
      "type": "quantitative",
      "scale": {"domain": [-0.125, 2.625], "nice": false, "zero": false},
      "axis": {"values": [0, 0.5, 1, 1.5, 2, 2.5], "format": ".1f", "labelPadding": 52, "title": "time(h)", "titleBaseline": "alphabetic", "titleY": 239}
    },
    "y": {
      "field": "r",
      "type": "quantitative",
      "scale": {"domain": [0.182, 0.827], "nice": false, "zero": false},
      "axis": {"values": [0.2, 0.4, 0.6, 0.8], "format": ".1f", "labelPadding": 61, "title": "reward", "titleAngle": -90, "titleBaseline": "alphabetic", "titleX": -221}
    }
  },
  "layer": [
    {
      "data": {"name": "red"},
      "mark": {"type": "line", "strokeWidth": 12, "strokeCap": "round", "strokeJoin": "round"},
      "encoding": {
        "color": {"datum": "ControlVAE", "type": "nominal", "scale": {"domain": ["ControlVAE", "Non-conditional prior"], "range": ["#e31a1c", "#1f77b4"]}}
      }
    },
    {
      "data": {"name": "blue"},
      "mark": {"type": "line", "strokeWidth": 12, "strokeCap": "round", "strokeJoin": "round"},
      "encoding": {
        "color": {"datum": "Non-conditional prior", "type": "nominal"}
      }
    }
  ]
}
